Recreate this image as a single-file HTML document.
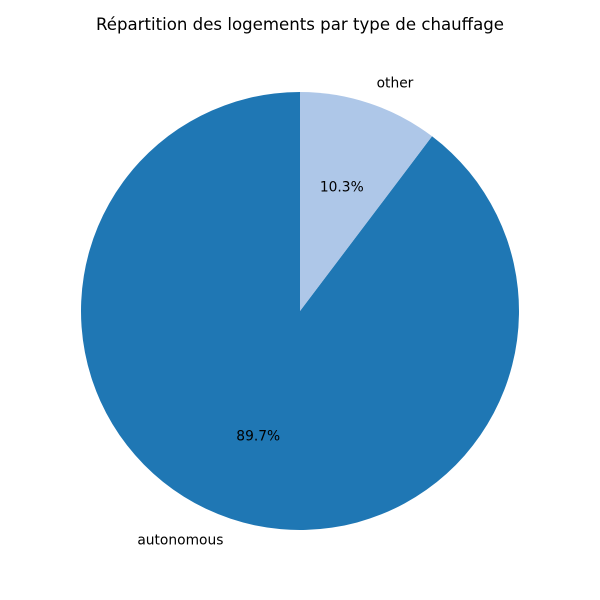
<!DOCTYPE html>
<html><head><meta charset="utf-8"><style>body{margin:0;background:#fff}svg{display:block;font-family:"DejaVu Sans","Liberation Sans",sans-serif}</style></head>
<body>
<svg id="chart" width="600" height="600" viewBox="0 0 600 600">
<text x="300" y="30" text-anchor="middle" font-size="16.6" fill="#000">Répartition des logements par type de chauffage</text>
<g id="slices"></g>
</svg>
<script>
const categories = ["autonomous", "other"];
const values = [89.7, 10.3];
const colors = ["#1f77b4", "#aec7e8"];
const cx = 300, cy = 311, R = 219, startAngle = 90;
const ns = "http://www.w3.org/2000/svg";
const g = document.getElementById('slices');
const total = values.reduce((a,b)=>a+b,0);
let a0 = startAngle;
function pt(deg, r){const t=deg*Math.PI/180;return [cx+r*Math.cos(t), cy-r*Math.sin(t)];}
values.forEach((v,i)=>{
  const sweep = v/total*360, a1 = a0+sweep;
  const p0 = pt(a0,R), p1 = pt(a1,R);
  const path = document.createElementNS(ns,'path');
  path.setAttribute('d',`M${cx},${cy} L${p0[0]},${p0[1]} A${R},${R} 0 ${sweep>180?1:0} 0 ${p1[0]},${p1[1]} Z`);
  path.setAttribute('fill',colors[i]);
  
  
  g.appendChild(path);
  const mid = a0+sweep/2;
  const lp = pt(mid,R*1.1);
  const lab = document.createElementNS(ns,'text');
  lab.setAttribute('x',lp[0]);lab.setAttribute('y',lp[1]+5);
  lab.setAttribute('text-anchor',lp[0]<cx?'end':'start');
  lab.setAttribute('font-size','13.8');
  lab.textContent=categories[i];
  
  
  g.appendChild(lab);
  const pp = pt(mid,R*0.6);
  const pc = document.createElementNS(ns,'text');
  pc.setAttribute('x',pp[0]);pc.setAttribute('y',pp[1]+5);
  pc.setAttribute('text-anchor','middle');
  pc.setAttribute('font-size','13.8');
  pc.textContent=v.toFixed(1)+'%';
  
  
  g.appendChild(pc);
  a0 = a1;
});
</script>
</body></html>
